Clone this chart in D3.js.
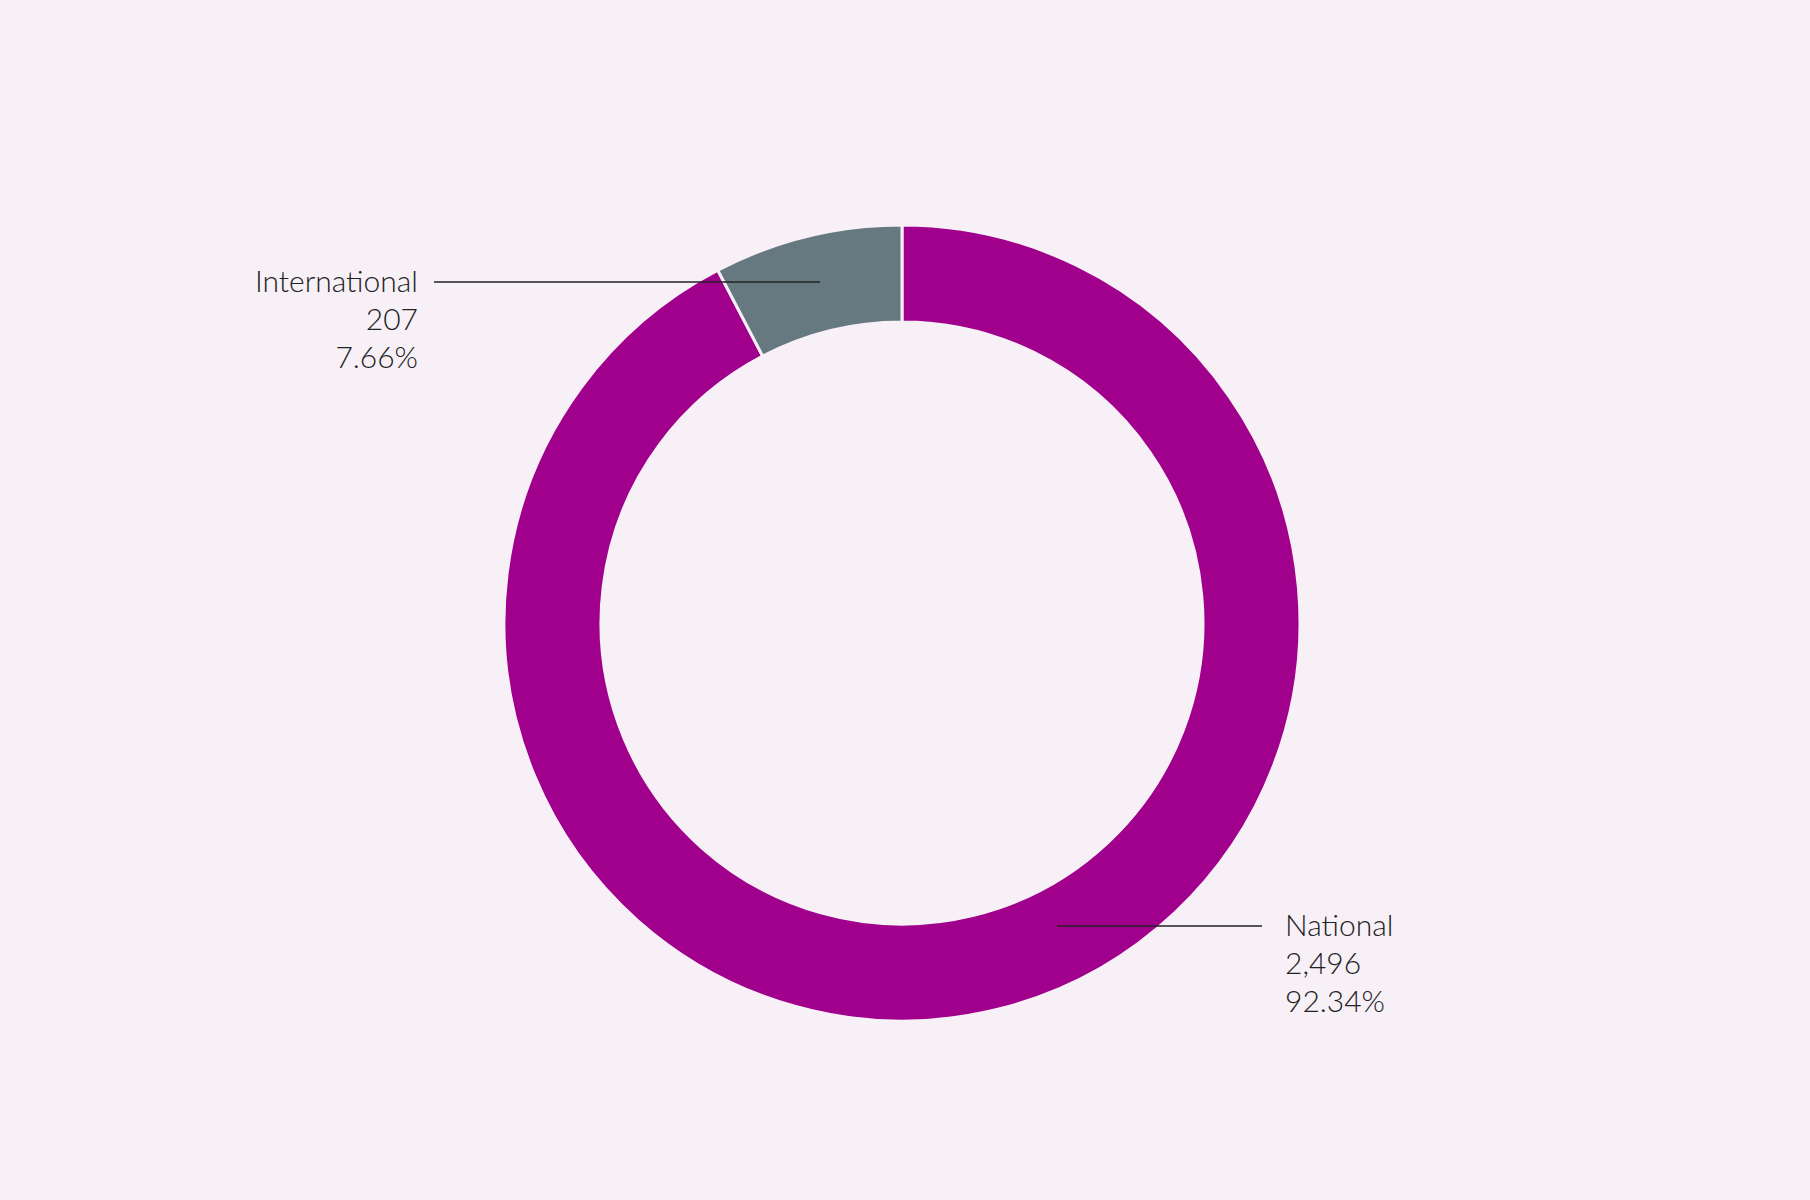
<!DOCTYPE html>
<html><head><meta charset="utf-8">
<script src="https://cdn.jsdelivr.net/npm/d3@7"></script>
<style>body{margin:0;background:#f7f0f7;}</style>
</head><body>
<svg id="c" width="1810" height="1200"></svg>
<script>
const categories = ["National", "International"];
const values = [2496, 207];
const percents = ["92.34%", "7.66%"];
const colors = ["#a0008c", "#667880"];

const svg = d3.select("#c");
svg.append("rect").attr("width",1810).attr("height",1200).attr("fill","#f7f0f7");
const cx = 902, cy = 623, R = 398, r = 301;
const g = svg.append("g").attr("transform",`translate(${cx},${cy})`);
const pie = d3.pie().sort(null).value(d=>d)(values);
const arc = d3.arc().innerRadius(r).outerRadius(R);
g.selectAll("path").data(pie).join("path")
  .attr("d",arc).attr("fill",(d,i)=>colors[i])
  .attr("stroke","#f7f0f7").attr("stroke-width",3);

const labels = [
  {i:1, x1:434-cx, x2:820-cx, y:282-cy, tx:418-cx, anchor:"end"},
  {i:0, x1:1057-cx, x2:1262-cx, y:926-cy, tx:1285-cx, anchor:"start"}
];
labels.forEach(L=>{
  g.append("line").attr("x1",L.x1).attr("x2",L.x2).attr("y1",L.y).attr("y2",L.y)
    .attr("stroke","#222").attr("stroke-width",1.5);
  const t = g.append("text").attr("x",L.tx).attr("y",L.y+10).attr("text-anchor",L.anchor)
    .attr("font-family","Lato, sans-serif").attr("font-weight",300).attr("font-size",30).attr("fill","#222");
  [categories[L.i], d3.format(",")(values[L.i]), percents[L.i]].forEach((s,k)=>{
    t.append("tspan").attr("x",L.tx).attr("dy",k?38:0).text(s);
  });
});
</script>
</body></html>
